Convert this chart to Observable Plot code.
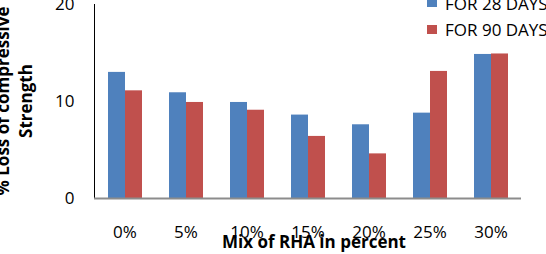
<!DOCTYPE html>
<html>
<head>
<meta charset="utf-8">
<script src="https://cdn.jsdelivr.net/npm/d3@7"></script>
<script src="https://cdn.jsdelivr.net/npm/@observablehq/plot@0.6"></script>
<style>
  body { margin: 0; background: #fff; }
  #chart { position: relative; width: 546px; height: 254px; overflow: hidden; }
  #chart svg [aria-label="y-axis"] .domain { stroke: #8c8c8c; stroke-width: 2; }
</style>
</head>
<body>
<div id="chart"></div>
<script>
// Mix proportions of rice husk ash (RHA)
const mixes = ["0%", "5%", "10%", "15%", "20%", "25%", "30%"];
const seriesNames = ["FOR 28 DAYS", "FOR 90 DAYS"];
// % loss of compressive strength
const loss28 = [13.0, 10.9, 9.9, 8.6, 7.6, 8.8, 14.85];
const loss90 = [11.1, 9.9, 9.1, 6.4, 4.6, 13.1, 14.9];
const yTicks = [0, 10, 20];
const seriesColors = ["#4F81BD", "#C0504D"];

const rows = mixes.flatMap((mix, i) => [
  {mix, series: seriesNames[0], loss: loss28[i]},
  {mix, series: seriesNames[1], loss: loss90[i]}
]);

const font = "'Open Sans', sans-serif";

const chart = Plot.plot({
  width: 546,
  height: 254,
  marginLeft: 92,
  marginRight: 23,
  marginTop: 4,
  marginBottom: 56,
  style: {fontFamily: font, fontSize: "17px", color: "#000", background: "#fff", overflow: "visible"},
  facet: {data: rows, x: "mix", marginLeft: 0, marginRight: 0},
  fx: {domain: mixes, range: [92, 523], axis: "bottom", padding: 0, label: null, tickSize: 0, tickPadding: 27},
  x: {domain: seriesNames, axis: null, paddingInner: 0, paddingOuter: 0.76},
  y: {domain: [0, 20], ticks: yTicks, tickSize: 0, tickPadding: 20, label: null, line: true},
  color: {domain: seriesNames, range: seriesColors},
  marks: [
    Plot.barY(rows, {x: "series", y: "loss", fill: "series"}),
    Plot.ruleY([0], {stroke: "#8c8c8c", strokeWidth: 2})
  ]
});

document.getElementById("chart").appendChild(chart);

const svg = d3.select(chart);
const color = chart.scale("color");

// Two-line rotated y-axis title
const yTitle = svg.append("text")
  .attr("transform", "translate(0,101) rotate(-90)")
  .attr("text-anchor", "middle")
  .attr("font-family", font)
  .attr("font-weight", "bold")
  .attr("font-size", 17)
  .attr("fill", "#000");
yTitle.append("tspan").attr("x", 0).attr("y", 9).text("% Loss of compressive");
yTitle.append("tspan").attr("x", 0).attr("y", 32).text("Strength");

// x-axis title
svg.append("text")
  .attr("x", 314)
  .attr("y", 248)
  .attr("text-anchor", "middle")
  .attr("font-family", font)
  .attr("font-weight", "bold")
  .attr("font-size", 17)
  .attr("fill", "#000")
  .text("Mix of RHA in percent");

// Legend, top right
const legend = svg.append("g")
  .attr("font-family", font)
  .attr("font-size", 17)
  .attr("text-anchor", "start");
color.domain.forEach((name, i) => {
  legend.append("rect")
    .attr("x", 427).attr("y", 27 * i - 2)
    .attr("width", 10).attr("height", 9)
    .attr("fill", color.apply(name));
  legend.append("text")
    .attr("x", 445).attr("y", 10 + 26 * i)
    .attr("fill", "#000")
    .text(name);
});
</script>
</body>
</html>
